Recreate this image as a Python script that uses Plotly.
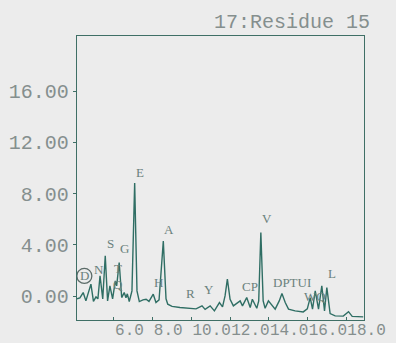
import plotly.graph_objects as go

# Chromatogram trace vertices (retention time, absorbance)
rt = [4.09, 4.24, 4.41, 4.55, 4.81, 4.94, 5.07, 5.17, 5.28, 5.42, 5.55, 5.67, 5.79, 5.93,
      6.07, 6.14, 6.27, 6.40, 6.53, 6.62, 6.69, 6.79, 6.93, 7.07, 7.19, 7.31, 7.50, 7.66,
      7.81, 8.03, 8.17, 8.33, 8.55, 8.69, 8.78, 9.00, 9.41, 9.83, 10.24, 10.55, 10.71,
      10.97, 11.19, 11.45, 11.61, 11.74, 11.86, 12.00, 12.17, 12.52, 12.64, 12.86, 13.04,
      13.15, 13.38, 13.48, 13.59, 13.71, 13.81, 13.98, 14.33, 14.54, 14.68, 14.85, 15.02,
      15.36, 15.78, 15.99, 16.14, 16.26, 16.40, 16.57, 16.74, 16.88, 17.00, 17.17, 17.43,
      17.85, 18.12, 18.31, 18.88]
signal = [-0.20, -0.12, 0.29, -0.36, 0.95, -0.40, -0.05, -0.20, 1.60, -0.20, 3.16, -0.36,
          0.81, -0.20, 1.20, 0.81, 2.63, -0.10, 0.29, -0.12, 0.19, -0.41, 0.42, 8.84, 0.42,
          -0.41, -0.28, -0.23, -0.40, 0.16, -0.49, -0.28, 4.30, -0.20, -0.62, -0.79, -0.87,
          -0.95, -0.98, -0.75, -1.02, -0.75, -1.14, -0.49, -0.83, 0.03, 1.34, -0.23, -0.75,
          -0.36, -0.75, -0.10, -0.88, -0.23, -0.93, -0.36, 4.98, -0.36, -0.93, -0.36, -1.00,
          -0.36, 0.21, -0.49, -1.00, -1.14, -1.22, -0.98, -0.10, -1.00, 0.42, -1.00, 0.81,
          -1.14, 0.68, -1.35, -1.53, -1.55, -1.20, -1.57, -1.61]

# Peak labels (crowded groups kept as single strings, as they print in the picture)
label_text = ["D", "N", "S", "G", "T", "Q", "E", "A", "H", "R", "Y", "CP", "V",
              "DPTUI", "L", "WQ"]
label_x = [4.47, 5.22, 5.84, 6.57, 6.23, 6.21, 7.37, 8.85, 8.28, 9.98, 10.91, 13.02,
           13.92, 15.20, 17.28, 16.38]
label_y = [1.59, 2.06, 4.09, 3.70, 2.20, 0.90, 9.64, 5.19, 1.05, 0.19, 0.50, 0.73,
           6.05, 1.05, 1.75, -0.05]

x_ticks = [6, 8, 10, 12, 14, 16, 18]
x_tick_text = ["6.0", "8.0", "10.0", "12.0", "14.0", "16.0", "18.0"]
y_ticks = [0, 4, 8, 12, 16]
y_tick_text = ["0.00", "4.00", "8.00", "12.00", "16.00"]

title_text = "17:Residue 15"

BG = "#ececec"
AXIS = "#3f6f66"
TRACE = "#2f6e64"
TXT = "#858f8e"
LBL = "#6a817c"
MONO = "Liberation Mono"

fig = go.Figure()
fig.add_trace(go.Scatter(x=rt, y=signal, mode="lines",
                         line=dict(color=TRACE, width=1.4), hoverinfo="skip",
                         showlegend=False))

for t, lx, ly in zip(label_text, label_x, label_y):
    fig.add_annotation(x=lx, y=ly, xref="x", yref="y", text=t, showarrow=False,
                       font=dict(family="Liberation Serif", size=13, color=LBL))

# circle around first D label
fig.add_shape(type="circle", xref="x", yref="y", xsizemode="pixel", ysizemode="pixel",
              xanchor=label_x[0], yanchor=label_y[0], x0=-7.5, x1=7.5, y0=-7.5, y1=7.5,
              line=dict(color="#5b6b68", width=1.3))

fig.add_annotation(xref="paper", yref="paper", x=1.028, y=1.046, xanchor="right",
                   yanchor="middle", text=title_text, showarrow=False,
                   font=dict(family=MONO, size=20, color=TXT))

fig.update_layout(
    width=396, height=343,
    margin=dict(l=77, r=32, t=36, b=23),
    paper_bgcolor=BG, plot_bgcolor=BG,
    showlegend=False,
    xaxis=dict(range=[4.09, 18.92], tickvals=x_ticks, ticktext=x_tick_text,
               ticks="inside", ticklen=3, tickcolor=AXIS, tickangle=0,
               ticklabelposition="outside right", ticklabelstandoff=-5,
               automargin=False,
               showline=True, linecolor=AXIS, linewidth=1.3, mirror=True,
               showgrid=False, zeroline=False,
               tickfont=dict(family=MONO, size=16, color=TXT)),
    yaxis=dict(range=[-1.85, 20.3], tickvals=y_ticks, ticktext=y_tick_text,
               ticks="outside", ticklen=3, tickcolor=AXIS, automargin=False,
               showline=True, linecolor=AXIS, linewidth=1.3, mirror=True,
               showgrid=False, zeroline=False,
               tickfont=dict(family=MONO, size=20, color=TXT)),
)

fig.write_html("out.html")
